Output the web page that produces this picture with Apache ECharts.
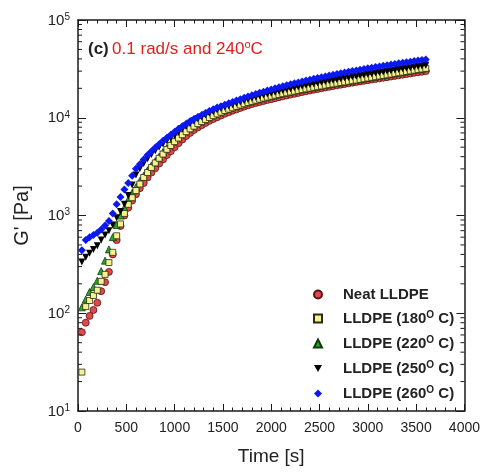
<!DOCTYPE html>
<html><head><meta charset="utf-8">
<script src="https://cdn.jsdelivr.net/npm/echarts@6/dist/echarts.min.js"></script>
<style>html,body{margin:0;padding:0;background:#fff}#c{width:483px;height:473px}</style>
</head><body><div id="c"></div>
<script>
// time [s]
var times = [40,80,120,160,200,240,280,320,360,400,
  440,480,520,560,600,640,680,720,760,800,
  840,880,920,960,1000,1040,1080,1120,1160,1200,
  1240,1280,1320,1360,1400,1440,1480,1520,1560,1600,
  1640,1680,1720,1760,1800,1840,1880,1920,1960,2000,
  2040,2080,2120,2160,2200,2240,2280,2320,2360,2400,
  2440,2480,2520,2560,2600,2640,2680,2720,2760,2800,
  2840,2880,2920,2960,3000,3040,3080,3120,3160,3200,
  3240,3280,3320,3360,3400,3440,3480,3520,3560,3600];
// G' [Pa]
var neat = [64,80,94,108,128,168,208,265,400,560,
  780,1000,1200,1420,1650,1900,2150,2450,2750,3050,
  3400,3750,4150,4550,5000,5500,6000,6500,7000,7500,
  7950,8400,8850,9300,9700,10100,10550,11000,11400,11800,
  12200,12600,13000,13400,13800,14150,14500,14850,15200,15500,
  15850,16200,16550,16900,17250,17600,17950,18300,18650,19000,
  19350,19700,20050,20400,20750,21100,21450,21800,22150,22500,
  22850,23200,23550,23900,24250,24600,24950,25300,25650,26000,
  26400,26800,27200,27600,28000,28400,28800,29200,29600,30000];
var t180 = [25,117,135,152,172,212,250,330,420,620,
  820,1050,1300,1520,1800,2100,2450,2750,3100,3450,
  3850,4250,4750,5200,5700,6200,6700,7200,7700,8200,
  8700,9150,9600,10050,10500,10950,11400,11850,12250,12650,
  13070,13490,13900,14300,14700,15100,15500,15900,16250,16600,
  16950,17300,17650,18000,18350,18700,19050,19400,19750,20100,
  20450,20800,21150,21500,21850,22200,22550,22900,23250,23600,
  23950,24300,24700,25100,25500,25900,26300,26700,27100,27500,
  27950,28400,28850,29300,29750,30200,30650,31100,31550,32000];
var t220 = [115,138,165,185,215,270,345,450,600,800,
  1000,1200,1450,1700,1950,2250,2550,2900,3250,3600,
  4000,4450,4900,5400,5900,6400,6900,7450,7950,8450,
  8950,9400,9850,10300,10750,11200,11650,12100,12500,12900,
  13300,13700,14100,14500,14900,15300,15700,16100,16450,16800,
  17150,17500,17850,18200,18550,18900,19250,19600,19950,20300,
  20650,21000,21350,21700,22050,22400,22750,23100,23450,23800,
  24150,24500,24900,25300,25700,26100,26500,26900,27300,27700,
  28150,28600,29050,29500,29950,30400,30850,31300,31750,32200];
var t250 = [335,375,410,450,490,560,630,700,800,950,
  1100,1300,1600,2050,2600,3000,3400,3800,4200,4600,
  5000,5400,5800,6200,6600,7150,7700,8250,8800,9300,
  9750,10200,10650,11100,11550,12000,12400,12800,13200,13600,
  14050,14500,14950,15400,15850,16250,16650,17050,17450,17850,
  18250,18650,19050,19450,19850,20250,20650,21050,21450,21850,
  22250,22650,23050,23450,23850,24250,24650,25050,25450,25850,
  26250,26650,27050,27450,27850,28250,28650,29050,29450,29850,
  30300,30750,31200,31650,32100,32550,33000,33450,33900,34400];
var t260 = [440,560,600,630,665,720,790,880,1050,1300,
  1550,1850,2150,2550,3000,3350,3750,4150,4550,4950,
  5350,5800,6250,6700,7200,7700,8200,8700,9200,9700,
  10200,10700,11200,11700,12200,12700,13150,13600,14050,14500,
  15000,15500,16000,16500,17000,17500,18000,18500,19000,19500,
  20000,20500,21000,21500,22000,22500,23000,23500,24000,24500,
  25000,25500,26000,26500,27000,27500,28000,28500,29000,29500,
  30000,30500,31000,31500,32000,32500,33000,33500,34000,34500,
  35000,35500,36000,36500,37000,37500,38000,38500,39000,39500];
var seriesNames = ['Neat LLDPE','LLDPE (180)','LLDPE (220)','LLDPE (250)','LLDPE (260)'];
var yMinorTicks = [20,30,40,50,60,70,80,90,200,300,400,500,600,700,800,900,
  2000,3000,4000,5000,6000,7000,8000,9000,20000,30000,40000,50000,60000,70000,80000,90000];
var xTicks = {min:0, max:4000, interval:500};

function pairs(vals){ return times.map(function(t,i){ return [t, vals[i]]; }); }

var chart = echarts.init(document.getElementById('c'), null, {renderer:'canvas'});
var axisColor = '#1a1a1a';
var txt = '#222';
var ff = '"Liberation Sans", Arial, sans-serif';
var downTri = 'path://M0,0 L10,0 L5,9 Z';

function mk(name, vals, symbol, size, color, border, z, rot){
  return {
    name: name, type:'scatter', data: pairs(vals), symbol: symbol, symbolSize: size,
    symbolRotate: rot || 0, z: z,
    itemStyle: {color: color, borderColor: border, borderWidth: border ? 0.8 : 0, opacity: 1},
    emphasis: {disabled: true}, animation: false
  };
}

var option = {
  animation: false,
  backgroundColor: '#fff',
  textStyle: {fontFamily: ff},
  grid: {left: 78, right: 16, top: 20, bottom: 62, containLabel: false},
  xAxis: [{
    type:'value', min: xTicks.min, max: xTicks.max, interval: xTicks.interval,
    name: 'Time [s]', nameLocation:'middle', nameGap: 36,
    nameTextStyle: {fontSize: 19, color: txt, fontFamily: ff},
    axisLine: {show:true, lineStyle:{color: axisColor, width: 1.5}},
    axisTick: {show:true, inside:true, length:7, lineStyle:{color: axisColor, width:1}},
    minorTick: {show:true, splitNumber:5, length:3.5, lineStyle:{color: axisColor, width:1}},
    axisLabel: {fontSize: 14, color: txt, margin: 10, fontFamily: ff,
      formatter: function(v){ return String(v); }},
    splitLine: {show:false}
  },{
    type:'value', position:'top', min: xTicks.min, max: xTicks.max, interval: xTicks.interval,
    axisLine: {show:true, onZero:false, lineStyle:{color: axisColor, width: 1.5}},
    axisTick: {show:true, inside:true, length:7, lineStyle:{color: axisColor, width:1}},
    minorTick: {show:true, splitNumber:5, length:3.5, lineStyle:{color: axisColor, width:1}},
    axisLabel: {show:false}, splitLine: {show:false}
  }],
  yAxis: [{
    type:'log', logBase:10, min:10, max:100000,
    name: "G' [Pa]", nameLocation:'middle', nameGap: 46,
    nameTextStyle: {fontSize: 20, color: txt, fontFamily: ff},
    axisLine: {show:true, lineStyle:{color: axisColor, width: 1.5}},
    axisTick: {show:true, inside:true, length:8, lineStyle:{color: axisColor, width:1}},
    axisLabel: {
      margin: 8, color: txt,
      formatter: function(v){ var e = Math.round(Math.log(v)/Math.LN10); return '{b|10}{s|' + e + '}'; },
      rich: {
        b: {fontSize: 15, color: txt, fontFamily: ff, verticalAlign:'bottom', lineHeight: 16},
        s: {fontSize: 10, color: txt, fontFamily: ff, verticalAlign:'top', lineHeight: 16, padding:[0,0,8,0]}
      }
    },
    splitLine: {show:false}
  },{
    type:'log', logBase:10, min:10, max:100000, position:'right',
    axisLine: {show:true, onZero:false, lineStyle:{color: axisColor, width: 1.5}},
    axisTick: {show:true, inside:true, length:8, lineStyle:{color: axisColor, width:1}},
    axisLabel: {show:false}, splitLine: {show:false}
  }],
  legend: {
    orient:'vertical', left: 308, top: 282, itemWidth: 8, itemHeight: 8, itemGap: 8,
    data: [seriesNames[0], seriesNames[1], seriesNames[2], {name: seriesNames[3], icon: downTri}, seriesNames[4]],
    selectedMode: false,
    formatter: function(name){
      if (name === 'Neat LLDPE') return '{f|Neat LLDPE}';
      var m = name.match(/\((\d+)\)/);
      return '{f|LLDPE (' + m[1] + '}{s|O}{t| C)}';
    },
    textStyle: {
      fontSize: 15, fontWeight:'bold', color: txt, fontFamily: ff,
      rich: {
        f: {fontSize: 15, fontWeight:'bold', color: txt, fontFamily: ff, lineHeight: 17, padding:[0,0,0,16]},
        t: {fontSize: 15, fontWeight:'bold', color: txt, fontFamily: ff, lineHeight: 17},
        s: {fontSize: 10, fontWeight:'bold', color: txt, fontFamily: ff, verticalAlign:'top', lineHeight: 17, padding:[0,0,7,0]}
      }
    }
  },
  graphic: [{
    type:'text', left: 88, top: 39, z: 100,
    style: {
      text: '{k|(c)} {r|0.1 rad/s and 240}{rs|o}{r|C}',
      rich: {
        k: {fontSize: 17, fontWeight:'bold', fill:'#222', fontFamily: ff},
        r: {fontSize: 17, fill:'#e02020', fontFamily: ff},
        rs: {fontSize: 11, fill:'#e02020', fontFamily: ff, verticalAlign:'top', padding:[0,0,9,0]}
      }
    }
  }],
  series: [
    mk(seriesNames[0], neat, 'circle', 7, '#e0484a', '#5a1414', 2),
    mk(seriesNames[1], t180, 'rect', 6, '#f6f28e', '#2a2a10', 4),
    mk(seriesNames[2], t220, 'triangle', 7, '#2aa52a', '#0d3d0d', 3),
    mk(seriesNames[3], t250, 'triangle', 7, '#000000', null, 5, 180),
    mk(seriesNames[4], t260, 'diamond', 8, '#0a18f2', null, 6),
    {
      type:'custom', name:'yminor', silent:true, z: 10, animation:false,
      data: yMinorTicks.map(function(v){ return [0, v]; }),
      renderItem: function(params, api){
        var p = api.coord([0, api.value(1)]);
        var cs = params.coordSys;
        return {type:'group', children:[
          {type:'line', shape:{x1: cs.x, y1: p[1], x2: cs.x + 4, y2: p[1]}, style:{stroke: axisColor, lineWidth:1}},
          {type:'line', shape:{x1: cs.x + cs.width - 4, y1: p[1], x2: cs.x + cs.width, y2: p[1]}, style:{stroke: axisColor, lineWidth:1}}
        ]};
      },
      clip: false
    }
  ]
};
chart.setOption(option);
</script>
</body></html>
